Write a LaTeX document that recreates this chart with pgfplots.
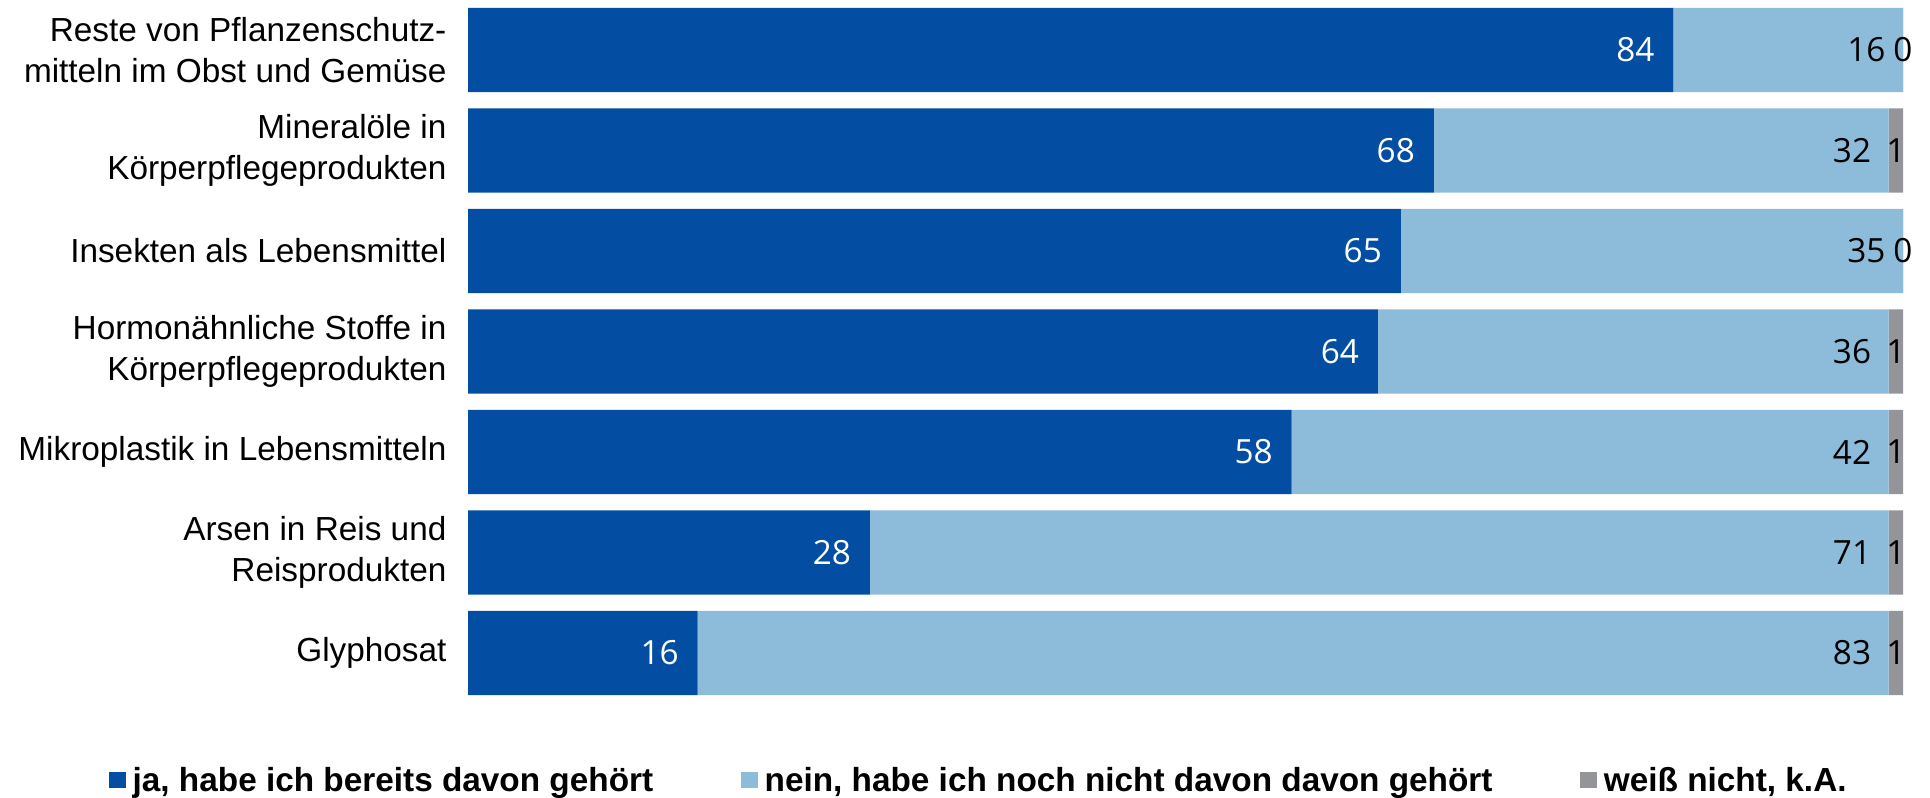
\documentclass[border=0pt]{standalone}
\usepackage{pgfplots}
\usepackage{pgfplotstable}
\pgfplotsset{compat=1.18}
\usepackage{fontspec}
\setmainfont{Liberation Sans}
\newfontfamily\valfont{Open Sans}
\definecolor{ja}{HTML}{034EA2}
\definecolor{nein}{HTML}{8DBCDA}
\definecolor{wn}{HTML}{939598}

\pgfplotstableread{
idx ja nein wn jal neinl wnl
0 84.0 16.0 0.001 84 16 0
1 67.3 31.7 1 68 32 1
2 65.0 35.0 0.001 65 35 0
3 63.4 35.6 1 64 36 1
4 57.4 41.6 1 58 42 1
5 28.0 71.0 1 28 71 1
6 16.0 83.0 1 16 83 1
}\datatable

\begin{document}
\begin{tikzpicture}
\useasboundingbox (0,0) rectangle (1447.5pt,597.75pt);
\begin{axis}[
  at={(351pt,597.94pt)}, anchor=north west,
  scale only axis, width=1076.25pt, height=527.6pt,
  xbar stacked, bar width=0.84,
  xmin=0, xmax=100, ymin=-0.5, ymax=6.5, y dir=reverse,
  enlarge x limits=false, enlarge y limits=false,
  clip=false,
  axis line style={draw=none}, tick style={draw=none}, major tick length=0pt,
  xtick=\empty, ytick={0,...,6},
  yticklabels={{Reste von Pflanzenschutz-\\mitteln im Obst und Gemüse},{Mineralöle in\\Körperpflegeprodukten},{Insekten als Lebensmittel},{Hormonähnliche Stoffe in\\Körperpflegeprodukten},{Mikroplastik in Lebensmitteln},{Arsen in Reis und\\Reisprodukten},{Glyphosat}},
  yticklabel style={align=right, font=\fontsize{25}{30.75}\selectfont, inner sep=0pt, xshift=-16pt},
  nodes near coords, point meta=explicit symbolic,
  nodes near coords style={font=\valfont\fontsize{25}{30}\selectfont, inner sep=0pt},
  legend style={at={(-0.2502,-0.1091)}, anchor=west, draw=none, fill=none, inner sep=0pt,
    font=\bfseries\fontsize{25}{30}\selectfont, legend columns=3,
    nodes={inner sep=0pt},
    /tikz/every even column/.append style={column sep=66pt},
    /tikz/every odd column/.append style={column sep=5pt}},
  legend image code/.code={\fill[#1] (0pt,-6.3pt) rectangle (12.6pt,6.3pt);},
]
\addplot[fill=ja, draw=none, visualization depends on={\thisrow{ja} \as \jaw},
  nodes near coords style={text=white, anchor=east, xshift={\jaw*5.38125pt-14pt}}]
  table[y=idx, x=ja, meta=jal] {\datatable};
\addlegendentry{ja, habe ich bereits davon gehört}
\addplot[fill=nein, draw=none, visualization depends on={\thisrow{nein} \as \neinw},
  nodes near coords style={text=black, anchor=east, xshift={\neinw*5.38125pt-13pt}}]
  table[y=idx, x=nein, meta=neinl] {\datatable};
\addlegendentry{nein, habe ich noch nicht davon davon gehört}
\addplot[fill=wn, draw=none,
  nodes near coords style={text=black, anchor=center}]
  table[y=idx, x=wn, meta=wnl] {\datatable};
\addlegendentry{weiß nicht, k.A.}
\end{axis}
\end{tikzpicture}
\end{document}
